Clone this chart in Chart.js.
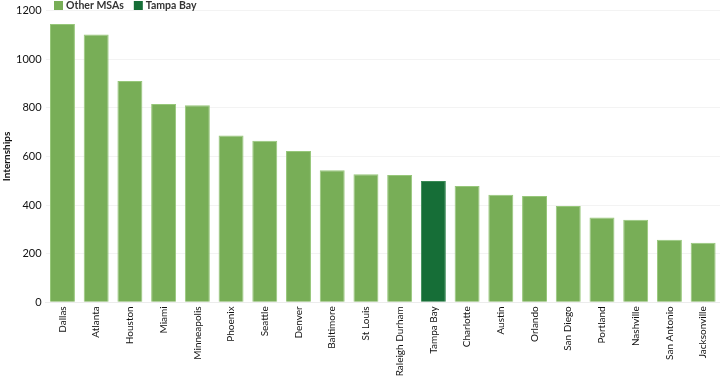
<!DOCTYPE html>
<html>
<head>
<meta charset="utf-8">
<script src="https://cdn.jsdelivr.net/npm/chart.js@4/dist/chart.umd.min.js"></script>
<style>
  html, body { margin: 0; padding: 0; background: #ffffff; }
  #wrap { width: 720px; height: 376px; position: relative; }
</style>
</head>
<body>
<div id="wrap"><canvas id="c"></canvas></div>
<script>
const categories = ["Dallas","Atlanta","Houston","Miami","Minneapolis","Phoenix","Seattle","Denver","Baltimore","St Louis","Raleigh Durham","Tampa Bay","Charlotte","Austin","Orlando","San Diego","Portland","Nashville","San Antonio","Jacksonville"];
const internships = [1145,1102,910,816,811,686,665,622,543,527,524,499,478,442,437,396,349,340,257,245];
const highlightCategory = "Tampa Bay";
const seriesLabels = ["Other MSAs", "Tampa Bay"];
const yTicks = [0, 200, 400, 600, 800, 1000, 1200];

const LIGHT = '#78ae57', LIGHT_EDGE = '#97c77a';
const DARK = '#166e37', DARK_EDGE = '#3a8a55';
const FONT = 'Lato, "Open Sans", sans-serif';

const otherData = categories.map((c, i) => c === highlightCategory ? null : internships[i]);
const tampaData = categories.map((c, i) => c === highlightCategory ? internships[i] : null);

const legendPlugin = {
  id: 'customLegend',
  afterDraw(chart) {
    const ctx = chart.ctx;
    ctx.save();
    ctx.font = 'bold 10.5px ' + FONT;
    ctx.textBaseline = 'middle';
    let x = 54;
    const y = 1;
    chart.data.datasets.forEach(ds => {
      ctx.fillStyle = ds.backgroundColor;
      ctx.fillRect(x, y, 9, 9);
      ctx.fillStyle = '#333333';
      ctx.fillText(ds.label, x + 12, y + 5);
      x += 12 + ctx.measureText(ds.label).width + 10;
    });
    ctx.restore();
  }
};

new Chart(document.getElementById('c'), {
  type: 'bar',
  data: {
    labels: categories,
    datasets: [
      { label: seriesLabels[0], data: otherData, backgroundColor: LIGHT, borderColor: LIGHT_EDGE, borderWidth: 1 },
      { label: seriesLabels[1], data: tampaData, backgroundColor: DARK, borderColor: DARK_EDGE, borderWidth: 1 }
    ]
  },
  options: {
    responsive: true,
    maintainAspectRatio: false,
    animation: false,
    layout: { padding: { top: 7, right: 0, left: 0, bottom: 0 } },
    datasets: { bar: { categoryPercentage: 1.0, barPercentage: 0.74 } },
    plugins: { legend: { display: false }, tooltip: { enabled: false } },
    scales: {
      x: {
        stacked: true,
        grid: { display: false },
        border: { display: true, color: '#ececec' },
        ticks: {
          autoSkip: false, maxRotation: 90, minRotation: 90, padding: -4,
          color: '#111111', font: { family: FONT, size: 10 }
        },
        afterFit(scale) { scale.height = 73.7; }
      },
      y: {
        stacked: true,
        min: 0, max: 1200,
        afterBuildTicks(scale) { scale.ticks = yTicks.map(v => ({ value: v })); },
        grid: { color: '#f3f3f3', drawTicks: false },
        border: { display: false },
        ticks: {
          padding: 4, color: '#111111', font: { family: FONT, size: 11 },
          callback: (v) => String(v)
        },
        title: {
          display: true, text: 'Internships', color: '#111111',
          font: { family: FONT, size: 10, weight: 'bold', lineHeight: 1.2 },
          padding: { top: 1, bottom: 0 }
        },
        afterFit(scale) { scale.width = 45.6; }
      }
    }
  },
  plugins: [legendPlugin]
});
</script>
</body>
</html>
